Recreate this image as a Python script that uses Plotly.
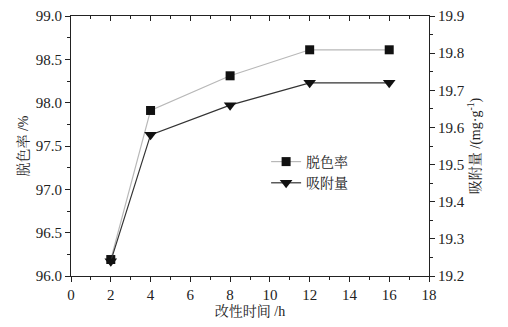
import plotly.graph_objects as go

time_h = [2, 4, 8, 12, 16]
decolor_rate = [96.19, 97.91, 98.31, 98.61, 98.61]
adsorption = [19.24, 19.58, 19.66, 19.72, 19.72]

x_ticks = [0, 2, 4, 6, 8, 10, 12, 14, 16, 18]
left_ticks = [96.0, 96.5, 97.0, 97.5, 98.0, 98.5, 99.0]
right_ticks = [19.2, 19.3, 19.4, 19.5, 19.6, 19.7, 19.8, 19.9]

FONT = "'Times New Roman', 'Liberation Serif', 'Noto Serif CJK SC', 'Noto Sans CJK SC', serif"

fig = go.Figure()
fig.add_trace(go.Scatter(
    x=time_h, y=decolor_rate, name="脱色率", mode="lines+markers",
    line=dict(color="#b8b8b8", width=1.2),
    marker=dict(symbol="square", size=9, color="#111"),
    yaxis="y"))
fig.add_trace(go.Scatter(
    x=time_h, y=adsorption, name="吸附量", mode="lines+markers",
    line=dict(color="#333", width=1.2),
    marker=dict(symbol="triangle-down", size=11, color="#111"),
    yaxis="y2"))
# invisible trace to anchor the top axis
fig.add_trace(go.Scatter(x=time_h, y=decolor_rate, xaxis="x2", yaxis="y",
                         mode="markers", marker=dict(opacity=0), showlegend=False,
                         hoverinfo="skip"))

axis_common = dict(showgrid=False, zeroline=False, showline=True, automargin=False,
                   linecolor="#222", linewidth=1.2, tickcolor="#222",
                   ticklabeloverflow="allow",
                   tickfont=dict(family=FONT, size=15, color="#222"))

fig.update_layout(
    template=None,
    width=500, height=319,
    margin=dict(l=63, r=79, t=8, b=51, autoexpand=False),
    paper_bgcolor="white", plot_bgcolor="white",
    font=dict(family=FONT, color="#222"),
    xaxis=dict(range=[0, 18], tickvals=x_ticks, ticks="outside", ticklen=5,
               minor=dict(ticks="outside", ticklen=3, dtick=1, tickcolor="#222"),
               title=dict(text="改性时间 /h", font=dict(family=FONT, size=14), standoff=4),
               **axis_common),
    xaxis2=dict(range=[0, 18], overlaying="x", side="top", tickvals=x_ticks,
                ticks="inside", ticklen=5, showticklabels=False, automargin=False,
                minor=dict(ticks="inside", ticklen=3, dtick=1, tickcolor="#222"),
                showgrid=False, zeroline=False, showline=True, linecolor="#222",
                linewidth=1.2, tickcolor="#222"),
    yaxis=dict(range=[96.0, 99.0], tickvals=left_ticks, ticktext=[f"{v:.1f}" for v in left_ticks],
               ticks="outside", ticklen=5,
               minor=dict(ticks="outside", ticklen=3, dtick=0.25, tickcolor="#222"),
               title=dict(text="脱色率 /%", font=dict(family=FONT, size=14), standoff=3),
               **axis_common),
    yaxis2=dict(range=[19.2, 19.9], tickvals=right_ticks, ticktext=[f"{v:.1f}" for v in right_ticks],
                overlaying="y", side="right", ticks="outside", ticklen=5,
                minor=dict(ticks="outside", ticklen=3, dtick=0.05, tickcolor="#222"),
                title=dict(text="吸附量 /(mg·g<sup>-1</sup>)", font=dict(family=FONT, size=14), standoff=3),
                **axis_common),
    legend=dict(x=0.545, y=0.5, xanchor="left", yanchor="top",
                bgcolor="rgba(0,0,0,0)", font=dict(family=FONT, size=14),
                itemwidth=30, tracegroupgap=0),
    showlegend=True,
)

fig.write_html("out.html")
